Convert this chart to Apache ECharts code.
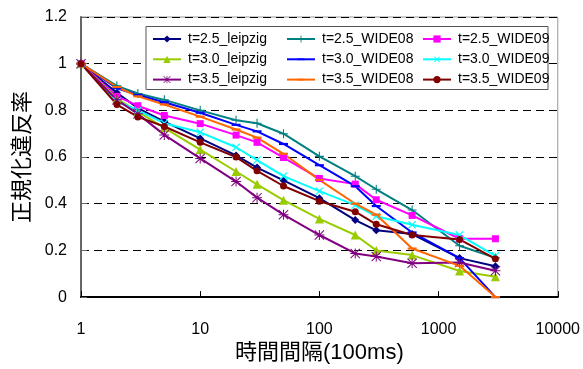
<!DOCTYPE html>
<html>
<head>
<meta charset="utf-8">
<script src="https://cdn.jsdelivr.net/npm/echarts@6/dist/echarts.min.js"></script>
<style>
  html, body { margin: 0; padding: 0; background: #fff; }
  #chart { width: 583px; height: 369px; }
</style>
</head>
<body>
<div id="chart"></div>
<script>
// 時間間隔 (100ms)
var intervals = [1, 2, 3, 5, 10, 20, 30, 50, 100, 200, 300, 600, 1500, 3000];
var xTicks = [1, 10, 100, 1000, 10000];

var leipzig25 = [1, 0.875, 0.81, 0.752, 0.68, 0.607, 0.555, 0.50, 0.424, 0.33, 0.286, 0.27, 0.167, 0.132];
var leipzig30 = [1, 0.85, 0.795, 0.725, 0.632, 0.538, 0.483, 0.415, 0.335, 0.266, 0.20, 0.18, 0.112, 0.087];
var leipzig35 = [1, 0.845, 0.785, 0.695, 0.594, 0.495, 0.426, 0.353, 0.266, 0.187, 0.174, 0.145, 0.148, 0.113];
var wide08_25 = [1, 0.905, 0.872, 0.845, 0.80, 0.758, 0.745, 0.70, 0.603, 0.518, 0.462, 0.373, 0.22, 0.168];
var wide08_30 = [1, 0.895, 0.866, 0.835, 0.79, 0.738, 0.71, 0.656, 0.565, 0.475, 0.39, 0.277, 0.167, 0];
var wide08_35 = [1, 0.90, 0.86, 0.825, 0.773, 0.718, 0.683, 0.614, 0.502, 0.40, 0.353, 0.208, 0.134, 0];
var wide09_25 = [1, 0.86, 0.82, 0.778, 0.743, 0.694, 0.663, 0.598, 0.508, 0.484, 0.417, 0.35, 0.25, 0.25];
var wide09_30 = [1, 0.84, 0.80, 0.745, 0.706, 0.642, 0.587, 0.518, 0.454, 0.394, 0.346, 0.31, 0.266, 0.177];
var wide09_35 = [1, 0.825, 0.772, 0.731, 0.663, 0.60, 0.541, 0.476, 0.411, 0.366, 0.312, 0.266, 0.247, 0.164];

var FONT = "'Liberation Sans', 'Noto Sans CJK JP', sans-serif";

// マーカー形状
var PLUS = 'path://M4.4,0h1.2v4.4h4.4v1.2h-4.4v4.4h-1.2v-4.4h-4.4v-1.2h4.4z';
var STAR = 'path://M4.5,0h1v4.5h4.5v1h-4.5v4.5h-1v-4.5h-4.5v-1h4.5z' +
  'M0.7,0L5,4.3L9.3,0L10,0.7L5.7,5L10,9.3L9.3,10L5,5.7L0.7,10L0,9.3L4.3,5L0,0.7z';
// 短い横棒（外枠は10x10に保つ）
var DASH = 'path://M0,0L0,0M10,10L10,10M0,3.8h10v2.4h-10z';

function pairs(ys) {
  return intervals.map(function (x, i) { return [x, ys[i]]; });
}

function makeSeries(name, ys, color, symbol, size, rotate) {
  return {
    name: name,
    type: 'line',
    data: pairs(ys),
    symbol: symbol,
    symbolSize: size,
    symbolRotate: rotate || 0,
    showAllSymbol: true,
    lineStyle: { color: color, width: 2 },
    itemStyle: { color: color, borderWidth: 0 },
    emphasis: { disabled: true },
    z: 2
  };
}

var chart = echarts.init(document.getElementById('chart'));

var legendBase = {
  orient: 'vertical',
  top: 32,
  padding: 0,
  itemWidth: 28,
  itemHeight: 9,
  itemGap: 6.3,
  textStyle: { fontFamily: FONT, fontSize: 14, color: '#000', padding: [0, 0, 0, 2] },
  selectedMode: false,
  z: 5
};

chart.setOption({
  animation: false,
  grid: {
    left: 81, right: 24, top: 17, bottom: 62,
    show: true, borderColor: '#999', borderWidth: 1
  },
  graphic: [{
    type: 'rect',
    shape: { x: 146, y: 26.5, width: 402, height: 63 },
    style: { fill: '#fff', stroke: '#555', lineWidth: 1 },
    z: 3
  }],
  legend: [
    Object.assign({}, legendBase, { left: 152, data: ['t=2.5_leipzig', 't=3.0_leipzig', 't=3.5_leipzig'] }),
    Object.assign({}, legendBase, { left: 286, data: ['t=2.5_WIDE08', 't=3.0_WIDE08', 't=3.5_WIDE08'] }),
    Object.assign({}, legendBase, { left: 422, data: ['t=2.5_WIDE09', 't=3.0_WIDE09', 't=3.5_WIDE09'] })
  ],
  xAxis: {
    type: 'log',
    logBase: 10,
    min: 1,
    max: 10000,
    name: '時間間隔(100ms)',
    nameLocation: 'middle',
    nameGap: 42,
    nameTextStyle: { fontFamily: FONT, fontSize: 22, color: '#000' },
    axisLine: { lineStyle: { color: '#000', width: 2 } },
    axisTick: { inside: true, length: 6, lineStyle: { color: '#000' } },
    minorTick: { show: false },
    axisLabel: {
      margin: 24,
      fontFamily: FONT, fontSize: 16, color: '#000',
      formatter: function (v) {
        var hit = xTicks.filter(function (t) { return Math.abs(t - v) < 1e-6 * t; });
        return hit.length ? String(hit[0]) : '';
      }
    },
    splitLine: { show: false }
  },
  yAxis: {
    type: 'value',
    min: 0,
    max: 1.2,
    interval: 0.2,
    name: '正規化違反率',
    nameLocation: 'middle',
    nameGap: 47,
    nameTextStyle: { fontFamily: FONT, fontSize: 22, color: '#000' },
    axisLine: { show: true, lineStyle: { color: '#666', width: 2 } },
    axisTick: { show: true, inside: true, length: 6, lineStyle: { color: '#666' } },
    axisLabel: { margin: 14, fontFamily: FONT, fontSize: 16, color: '#000' },
    splitLine: { show: true, lineStyle: { color: '#000', width: 1, type: [8, 5] } }
  },
  series: [
    makeSeries('t=2.5_leipzig', leipzig25, '#000080', 'diamond', 8),
    makeSeries('t=2.5_WIDE08', wide08_25, '#008080', PLUS, 9),
    makeSeries('t=2.5_WIDE09', wide09_25, '#FF00FF', 'rect', 7),
    makeSeries('t=3.0_leipzig', leipzig30, '#99CC00', 'triangle', 9),
    makeSeries('t=3.0_WIDE08', wide08_30, '#0000FF', DASH, 9),
    makeSeries('t=3.0_WIDE09', wide09_30, '#00FFFF', PLUS, 10, 45),
    makeSeries('t=3.5_leipzig', leipzig35, '#800080', STAR, 10),
    makeSeries('t=3.5_WIDE08', wide08_35, '#FF6600', DASH, 9),
    makeSeries('t=3.5_WIDE09', wide09_35, '#800000', 'circle', 7)
  ]
});
</script>
</body>
</html>
